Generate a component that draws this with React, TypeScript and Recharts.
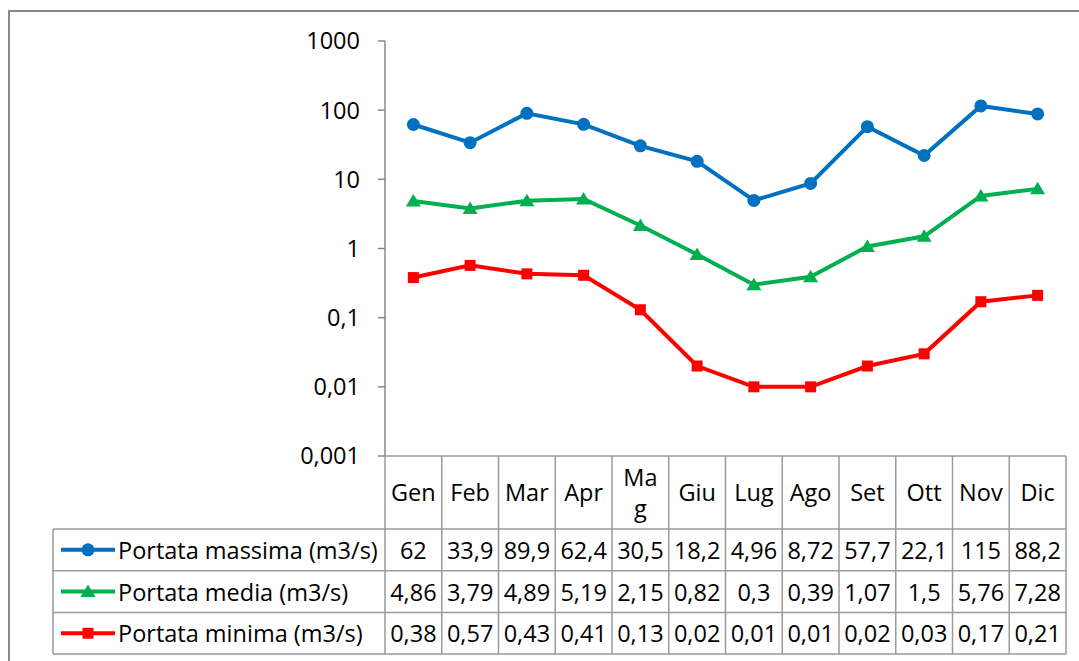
import React from 'react';
import { LineChart, Line, XAxis, YAxis } from 'recharts';

// months and header labels (the Mag header wraps in the original)
const months = ['Gen', 'Feb', 'Mar', 'Apr', 'Mag', 'Giu', 'Lug', 'Ago', 'Set', 'Ott', 'Nov', 'Dic'];
const monthHeaders = ['Gen', 'Feb', 'Mar', 'Apr', 'Ma\ng', 'Giu', 'Lug', 'Ago', 'Set', 'Ott', 'Nov', 'Dic'];
const portataMassima = [62, 33.9, 89.9, 62.4, 30.5, 18.2, 4.96, 8.72, 57.7, 22.1, 115, 88.2];
const portataMedia = [4.86, 3.79, 4.89, 5.19, 2.15, 0.82, 0.3, 0.39, 1.07, 1.5, 5.76, 7.28];
const portataMinima = [0.38, 0.57, 0.43, 0.41, 0.13, 0.02, 0.01, 0.01, 0.02, 0.03, 0.17, 0.21];
const yTicks = [0.001, 0.01, 0.1, 1, 10, 100, 1000];

const series = [
  { key: 'massima', name: 'Portata massima (m3/s)', values: portataMassima, color: '#0070C0', marker: 'circle' },
  { key: 'media', name: 'Portata media (m3/s)', values: portataMedia, color: '#00B050', marker: 'triangle' },
  { key: 'minima', name: 'Portata minima (m3/s)', values: portataMinima, color: '#FF0000', marker: 'square' }
];

const chartData = months.map((m, i) => ({
  month: m,
  massima: portataMassima[i],
  media: portataMedia[i],
  minima: portataMinima[i]
}));

// layout
const W = 1079;
const H = 661;
const plotLeft = 385;
const plotRight = 1066;
const plotTop = 41;
const plotBottom = 456;
const colW = (plotRight - plotLeft) / months.length;
const legendLeft = 53;
const headerBottom = 529;
const rowH = 41.7;
const gridColor = '#9a9a9a';
const font = '"Open Sans", sans-serif';
const fontSize = 23.5;

const fmt = (v: number) => v.toString().replace('.', ',');

const Marker = ({ cx, cy, type, color }: { cx: number; cy: number; type: string; color: string }) => {
  if (type === 'circle') return <circle cx={cx} cy={cy} r={6.5} fill={color} />;
  if (type === 'triangle') return <polygon points={`${cx},${cy - 7} ${cx + 7.5},${cy + 5.5} ${cx - 7.5},${cy + 5.5}`} fill={color} />;
  return <rect x={cx - 5.5} y={cy - 5.5} width={11} height={11} fill={color} />;
};

const App = () => {
  const rowTops = series.map((_, i) => headerBottom + i * rowH);
  const tableBottom = headerBottom + series.length * rowH;
  return <div style={{ position: 'absolute', left: 0, top: 0, width: W, height: H, overflow: 'hidden', background: '#fff', fontFamily: font }}>
      {/* outer chart border */}
      <div style={{ position: 'absolute', left: 8, top: 10, width: W + 20, height: H + 20, border: '2px solid #888', boxSizing: 'border-box' }} />
      <div style={{ position: 'absolute', left: 0, top: 0 }}>
        <LineChart width={W} height={H} data={chartData} margin={{ top: plotTop, right: W - plotRight, bottom: H - plotBottom, left: plotLeft - 60 }}>
          <XAxis dataKey="month" hide padding={{ left: colW / 2, right: colW / 2 }} />
          <YAxis type="number" scale="log" domain={[0.001, 1000]} ticks={yTicks} allowDataOverflow width={60}
            tickFormatter={(v: number) => fmt(v)} tick={{ fill: '#000', fontSize, fontFamily: font }}
            axisLine={{ stroke: '#888', strokeWidth: 1.5 }} tickLine={{ stroke: '#888', strokeWidth: 1.5 }} tickSize={7} tickMargin={18} />
          {series.map(s => <Line key={s.key} type="linear" dataKey={s.key} name={s.name} stroke={s.color} strokeWidth={4}
              isAnimationActive={false} activeDot={false}
              dot={(p: any) => <Marker key={`${s.key}-${p.index}`} cx={p.cx} cy={p.cy} type={s.marker} color={s.color} />} />)}
        </LineChart>
      </div>
      {/* data table grid */}
      <svg width={W} height={H} style={{ position: 'absolute', left: 0, top: 0 }}>
        <line x1={plotLeft} x2={plotRight} y1={plotBottom} y2={plotBottom} stroke={gridColor} strokeWidth={1.5} />
        {[headerBottom, ...rowTops.map(t => t + rowH)].map((y, i) => <line key={`h${i}`} x1={legendLeft} x2={plotRight} y1={y} y2={y} stroke={gridColor} strokeWidth={1.5} />)}
        <line x1={legendLeft} x2={legendLeft} y1={headerBottom} y2={tableBottom} stroke={gridColor} strokeWidth={1.5} />
        {months.map((_, i) => <line key={`v${i}`} x1={plotLeft + i * colW} x2={plotLeft + i * colW} y1={plotBottom} y2={tableBottom} stroke={gridColor} strokeWidth={1.5} />)}
        <line x1={plotRight} x2={plotRight} y1={plotBottom} y2={tableBottom} stroke={gridColor} strokeWidth={1.5} />
        {series.map((s, i) => {
        const cy = rowTops[i] + rowH / 2;
        return <g key={s.key}>
              <line x1={61} x2={115} y1={cy} y2={cy} stroke={s.color} strokeWidth={4} />
              <Marker cx={88} cy={cy} type={s.marker} color={s.color} />
            </g>;
      })}
      </svg>
      {/* header row */}
      {monthHeaders.map((m, i) => <div key={m} style={{ position: 'absolute', left: plotLeft + i * colW, top: plotBottom, width: colW, height: headerBottom - plotBottom, display: 'flex', alignItems: 'center', justifyContent: 'center', textAlign: 'center', whiteSpace: 'pre-line', lineHeight: '31px', fontSize, color: '#000' }}>
          {m}
        </div>)}
      {/* series rows */}
      {series.map((s, r) => <React.Fragment key={s.key}>
          <div style={{ position: 'absolute', left: 118, top: rowTops[r], height: rowH, display: 'flex', alignItems: 'center', fontSize, whiteSpace: 'nowrap', color: '#000' }}>
            {s.name}
          </div>
          {s.values.map((v, i) => <div key={i} style={{ position: 'absolute', left: plotLeft + i * colW, top: rowTops[r], width: colW, height: rowH, display: 'flex', alignItems: 'center', justifyContent: 'center', fontSize, whiteSpace: 'nowrap', color: '#000' }}>
              {fmt(v)}
            </div>)}
        </React.Fragment>)}
    </div>;
};

export default App;
